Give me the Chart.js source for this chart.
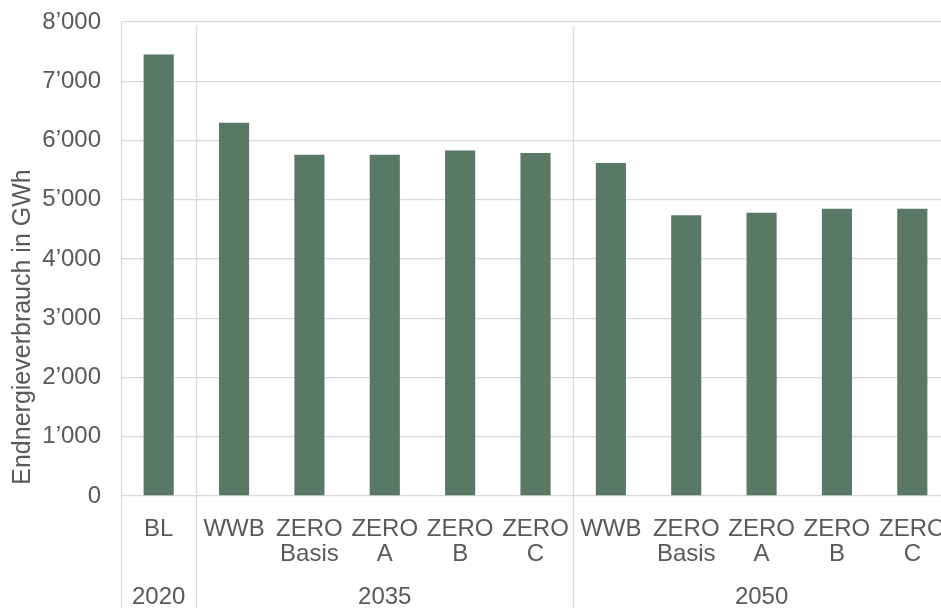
<!DOCTYPE html>
<html>
<head>
<meta charset="utf-8">
<script src="https://cdn.jsdelivr.net/npm/chart.js@4/dist/chart.umd.min.js"></script>
<style>
  html, body { margin: 0; padding: 0; background: #fff; overflow: hidden; width: 941px; height: 608px; }
  #wrap { width: 941px; height: 608px; overflow: hidden; }
  canvas { display: block; }
</style>
</head>
<body>
<div id="wrap"><canvas id="chart" width="952" height="608"></canvas></div>
<script>
// Scenario labels (two-line where needed), one per bar
const scenarios = [
  ['BL'],
  ['WWB'], ['ZERO', 'Basis'], ['ZERO', 'A'], ['ZERO', 'B'], ['ZERO', 'C'],
  ['WWB'], ['ZERO', 'Basis'], ['ZERO', 'A'], ['ZERO', 'B'], ['ZERO', 'C']
];
// Final energy consumption in GWh
const energyGWh = [7450, 6300, 5760, 5760, 5830, 5790, 5620, 4740, 4780, 4850, 4850];
// Year groups along the category axis and how many scenarios each holds
const years = ['2020', '2035', '2050'];
const yearGroupSizes = [1, 5, 5];
// Value axis
const yMin = 0;
const yMax = 8000;
const yStep = 1000;
const yTitle = 'Endnergieverbrauch in GWh';

const FONT = '"Liberation Sans", Arial, sans-serif';
const TEXT = '#595959';
const GRID = '#d9d9d9';

function fmtThousands(v) {
  return String(v).replace(/\B(?=(\d{3})+(?!\d))/g, '\u2019');
}

// Draws the year group row, the group separators and the rotated axis title
const groupAxis = {
  id: 'groupAxis',
  afterDraw(chart) {
    const ctx = chart.ctx;
    const x = chart.scales.x;
    const area = chart.chartArea;
    const half = (x.getPixelForValue(1) - x.getPixelForValue(0)) / 2;
    const bottom = chart.height;

    ctx.save();
    ctx.strokeStyle = GRID;
    ctx.lineWidth = 1.3;

    // left edge of the category axis
    ctx.beginPath();
    ctx.moveTo(area.left + 0.5, area.top);
    ctx.lineTo(area.left + 0.5, bottom);
    ctx.stroke();

    let start = 0;
    const bounds = [];
    yearGroupSizes.forEach((n) => {
      const left = x.getPixelForValue(start) - half;
      const right = x.getPixelForValue(start + n - 1) + half;
      bounds.push([left, right]);
      start += n;
    });

    // separators between year groups
    for (let i = 1; i < bounds.length; i++) {
      const px = Math.round(bounds[i][0]) + 0.5;
      ctx.beginPath();
      ctx.moveTo(px, area.top + 4);
      ctx.lineTo(px, bottom);
      ctx.stroke();
    }

    // year labels
    ctx.fillStyle = TEXT;
    ctx.font = '24px ' + FONT;
    ctx.textAlign = 'center';
    ctx.textBaseline = 'middle';
    bounds.forEach((b, i) => {
      ctx.fillText(years[i], (b[0] + b[1]) / 2, area.bottom + 101);
    });

    // value axis title
    ctx.translate(area.left - 98, area.bottom - 169);
    ctx.rotate(-Math.PI / 2);
    ctx.font = '25px ' + FONT;
    ctx.fillText(yTitle, 0, 0);
    ctx.restore();
  }
};

new Chart(document.getElementById('chart'), {
  type: 'bar',
  data: {
    labels: scenarios,
    datasets: [{
      data: energyGWh,
      backgroundColor: '#5a7866',
      borderWidth: 0,
      barPercentage: 0.4,
      categoryPercentage: 1.0
    }]
  },
  options: {
    responsive: false,
    animation: false,
    devicePixelRatio: 1,
    layout: { padding: { top: 22, right: 2, left: 0, bottom: 0 } },
    plugins: {
      legend: { display: false },
      tooltip: { enabled: false },
      title: { display: false }
    },
    scales: {
      x: {
        offset: true,
        grid: { display: false, drawTicks: false },
        border: { display: false },
        ticks: {
          autoSkip: false,
          maxRotation: 0,
          minRotation: 0,
          padding: 21,
          color: TEXT,
          font: { family: FONT, size: 24, lineHeight: 1.05 }
        },
        afterFit(scale) {
          scale.height = 112;
          scale.paddingLeft = 0;
          scale.paddingRight = 0;
        }
      },
      y: {
        min: yMin,
        max: yMax,
        ticks: {
          stepSize: yStep,
          padding: 20,
          color: TEXT,
          font: { family: FONT, size: 24 },
          callback: (v) => fmtThousands(v)
        },
        grid: { color: GRID, lineWidth: 1.3, drawTicks: false },
        border: { display: false },
        afterFit(scale) {
          scale.width = 121;
          scale.paddingTop = 0;
          scale.paddingBottom = 0;
        }
      }
    }
  },
  plugins: [groupAxis]
});
</script>
</body>
</html>
